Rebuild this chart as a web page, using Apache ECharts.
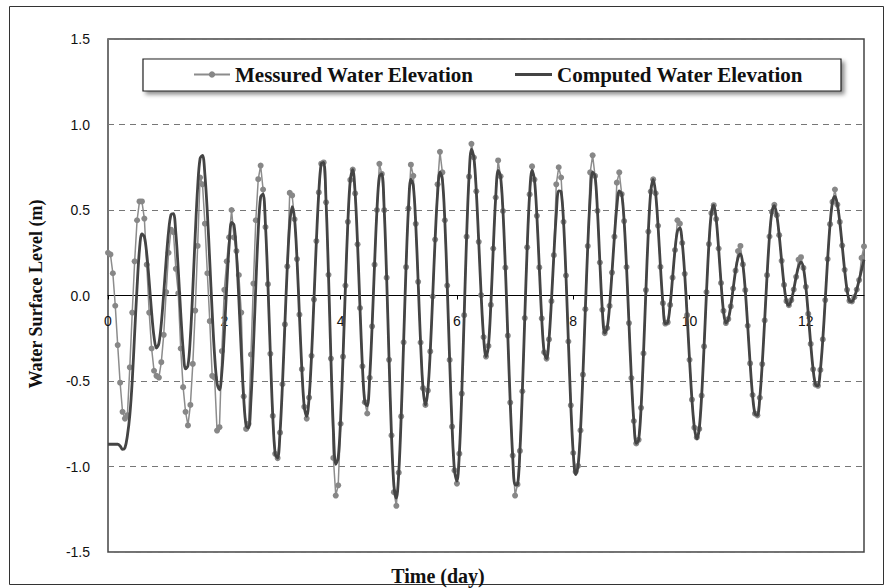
<!DOCTYPE html>
<html><head><meta charset="utf-8">
<script src="https://cdn.jsdelivr.net/npm/echarts@6/dist/echarts.min.js"></script>
<style>html,body{margin:0;padding:0;background:#fff}#c{width:892px;height:588px}</style>
</head><body><div id="c"></div>
<script>
// Series names (as printed in the legend)
const seriesNames = ['Messured Water Elevation', 'Computed Water Elevation'];
// Samples are hourly, starting at day 0
const sampleStepDays = 1 / 24;
const xTickLabels = ['0', '2', '4', '6', '8', '10', '12'];
const yTickLabels = ['-1.5', '-1.0', '-0.5', '0.0', '0.5', '1.0', '1.5'];

// Measured water elevation (m), hourly
const measured = [
 0.25,0.24,0.13,-0.06,-0.29,-0.51,-0.68,-0.72,-0.70,-0.42,
 -0.10,0.20,0.44,0.55,0.55,0.45,0.18,-0.10,-0.31,-0.44,
 -0.47,-0.48,-0.39,-0.23,0.02,0.25,0.385,0.37,0.156,0.013,
 -0.31,-0.536,-0.68,-0.76,-0.64,-0.40,-0.088,0.29,0.69,0.65,
 0.42,0.13,-0.15,-0.47,-0.48,-0.79,-0.77,-0.325,0.033,0.20,
 0.34,0.50,0.34,0.26,0.12,-0.10,-0.59,-0.78,-0.75,-0.345,
 0.07,0.44,0.68,0.76,0.62,0.40,0.066,-0.341,-0.704,-0.926,
 -0.951,-0.802,-0.519,-0.169,0.170,0.60,0.585,0.446,0.213,-0.112,
 -0.431,-0.651,-0.72,-0.597,-0.353,-0.024,0.318,0.603,0.771,0.778,
 0.545,0.121,-0.369,-0.95,-1.17,-1.11,-0.75,-0.358,0.058,0.431,
 0.676,0.736,0.597,0.299,-0.073,-0.414,-0.624,-0.69,-0.481,-0.180,
 0.180,0.500,0.77,0.711,0.499,0.104,-0.376,-0.818,-1.15,-1.23,
 -1.036,-0.707,-0.274,0.166,0.510,0.765,0.70,0.419,0.080,-0.275,
 -0.542,-0.640,-0.556,-0.327,-0.006,0.327,0.65,0.84,0.72,0.440,
 0.058,-0.377,-0.767,-1.023,-1.10,-0.925,-0.574,-0.115,0.344,0.695,
 0.887,0.807,0.609,0.314,0.002,-0.243,-0.357,-0.295,-0.055,0.275,
 0.573,0.79,0.697,0.494,0.163,-0.235,-0.626,-0.936,-1.17,-1.105,
 -0.909,-0.560,-0.132,0.282,0.591,0.755,0.678,0.466,0.164,-0.134,
 -0.332,-0.369,-0.257,-0.033,0.236,0.65,0.75,0.69,0.431,0.117,
 -0.269,-0.642,-0.921,-1.03,-0.996,-0.789,-0.463,-0.080,0.289,0.72,
 0.82,0.699,0.495,0.193,-0.084,-0.220,-0.190,-0.061,0.134,0.344,
 0.66,0.72,0.593,0.435,0.166,-0.161,-0.483,-0.734,-0.865,-0.844,
 -0.657,-0.339,0.032,0.374,0.608,0.679,0.598,0.408,0.167,-0.045,
 -0.164,-0.157,-0.055,0.104,0.266,0.44,0.42,0.307,0.127,-0.115,
 -0.376,-0.609,-0.773,-0.83,-0.780,-0.586,-0.298,0.020,0.301,0.482,
 0.528,0.447,0.275,0.073,-0.090,-0.161,-0.138,-0.064,0.041,0.145,
 0.26,0.29,0.182,0.031,-0.177,-0.397,-0.582,-0.691,-0.701,-0.598,
 -0.401,-0.146,0.119,0.345,0.489,0.53,0.470,0.353,0.203,0.062,
 -0.033,-0.057,-0.027,0.035,0.109,0.21,0.224,0.161,0.051,-0.108,
 -0.283,-0.432,-0.521,-0.528,-0.435,-0.257,-0.027,0.213,0.417,0.547,
 0.62,0.532,0.430,0.292,0.150,0.033,-0.031,-0.035,-0.010,0.035,
 0.090,0.22,0.287
];

// Computed water elevation (m), hourly
const computed = [
 -0.87,-0.87,-0.87,-0.87,-0.87,-0.88,-0.90,-0.89,-0.82,-0.70,
 -0.50,-0.22,0.05,0.27,0.36,0.343,0.242,0.080,-0.099,-0.242,
 -0.308,-0.280,-0.164,0.012,0.206,0.373,0.473,0.479,0.363,0.149,
 -0.100,-0.313,-0.429,-0.411,-0.242,0.036,0.354,0.633,0.801,0.820,
 0.705,0.484,0.198,-0.099,-0.352,-0.513,-0.552,-0.447,-0.222,0.053,
 0.294,0.427,0.412,0.249,-0.021,-0.329,-0.599,-0.762,-0.775,-0.610,
 -0.306,0.056,0.378,0.576,0.593,0.408,0.066,-0.341,-0.704,-0.926,
 -0.951,-0.802,-0.519,-0.169,0.170,0.417,0.519,0.446,0.213,-0.112,
 -0.431,-0.651,-0.707,-0.597,-0.353,-0.024,0.318,0.603,0.771,0.778,
 0.545,0.121,-0.369,-0.779,-0.987,-0.950,-0.722,-0.358,0.058,0.431,
 0.676,0.736,0.597,0.299,-0.073,-0.414,-0.624,-0.645,-0.481,-0.180,
 0.180,0.500,0.696,0.711,0.499,0.104,-0.376,-0.818,-1.112,-1.185,
 -1.036,-0.707,-0.274,0.166,0.510,0.681,0.641,0.419,0.080,-0.275,
 -0.542,-0.640,-0.556,-0.327,-0.006,0.327,0.591,0.722,0.678,0.440,
 0.058,-0.377,-0.767,-1.023,-1.085,-0.925,-0.574,-0.115,0.344,0.695,
 0.855,0.807,0.609,0.314,0.002,-0.243,-0.357,-0.295,-0.055,0.275,
 0.573,0.731,0.697,0.494,0.163,-0.235,-0.626,-0.936,-1.108,-1.105,
 -0.909,-0.560,-0.132,0.282,0.591,0.731,0.678,0.466,0.164,-0.134,
 -0.332,-0.369,-0.257,-0.033,0.236,0.473,0.612,0.607,0.431,0.117,
 -0.269,-0.642,-0.921,-1.047,-0.996,-0.789,-0.463,-0.080,0.289,0.573,
 0.721,0.699,0.495,0.193,-0.084,-0.220,-0.190,-0.061,0.134,0.344,
 0.518,0.611,0.593,0.435,0.166,-0.161,-0.483,-0.734,-0.865,-0.844,
 -0.657,-0.339,0.032,0.374,0.608,0.679,0.598,0.408,0.167,-0.045,
 -0.164,-0.157,-0.055,0.104,0.266,0.376,0.395,0.307,0.127,-0.115,
 -0.376,-0.609,-0.773,-0.839,-0.780,-0.586,-0.298,0.020,0.301,0.482,
 0.528,0.447,0.275,0.073,-0.090,-0.161,-0.138,-0.064,0.041,0.145,
 0.220,0.244,0.182,0.031,-0.177,-0.397,-0.582,-0.691,-0.701,-0.598,
 -0.401,-0.146,0.119,0.345,0.489,0.525,0.470,0.353,0.203,0.062,
 -0.033,-0.057,-0.027,0.035,0.109,0.169,0.195,0.161,0.051,-0.108,
 -0.283,-0.432,-0.521,-0.528,-0.435,-0.257,-0.027,0.213,0.417,0.547,
 0.579,0.532,0.430,0.292,0.150,0.033,-0.031,-0.035,-0.010,0.035,
 0.090,0.150,0.210
];

const toPairs = arr => arr.map((v, i) => [i * sampleStepDays, v]);

const chart = echarts.init(document.getElementById('c'), null, {renderer: 'svg'});
const serif = '"Liberation Serif", "Times New Roman", serif';
const sans = '"Liberation Sans", Arial, sans-serif';
const legendText = {fontFamily: serif, fontWeight: 'bold', fontSize: 21, color: '#111'};

// plot frame: top 39, height 513 -> y=0 sits 256.5 px above the bottom edge
const gridTop = 39, gridHeight = 513;

chart.setOption({
  animation: false,
  backgroundColor: '#ffffff',
  grid: {left: 108, top: gridTop, width: 756, height: gridHeight, show: true, borderColor: '#444', borderWidth: 1.5},
  legend: [
    {data: [seriesNames[0]], left: 188, top: 59, itemWidth: 36, itemHeight: 8, itemGap: 0, selectedMode: false, textStyle: legendText},
    {data: [{name: seriesNames[1], icon: 'rect'}], left: 510, top: 59, itemWidth: 37, itemHeight: 3, itemGap: 0, selectedMode: false, textStyle: legendText}
  ],
  graphic: [
    {type: 'rect', z: -1, shape: {x: 9.5, y: 6.5, width: 874, height: 578}, style: {fill: 'none', stroke: '#333', lineWidth: 1}},
    {type: 'rect', z: 1, shape: {x: 143, y: 59, width: 698, height: 32},
     style: {fill: '#fff', stroke: '#222', lineWidth: 1.2, shadowBlur: 4, shadowOffsetX: 3, shadowOffsetY: 3, shadowColor: 'rgba(0,0,0,0.45)'}},
    {type: 'text', x: 36, y: 294, rotation: Math.PI / 2,
     style: {text: 'Water Surface Level (m)', fontFamily: serif, fontWeight: 'bold', fontSize: 18, fill: '#111',
             align: 'center', verticalAlign: 'middle', textAlign: 'center', textVerticalAlign: 'middle'}},
    {type: 'text', x: 438, y: 576,
     style: {text: 'Time (day)', fontFamily: serif, fontWeight: 'bold', fontSize: 20, fill: '#111',
             align: 'center', verticalAlign: 'middle', textAlign: 'center', textVerticalAlign: 'middle'}}
  ],
  xAxis: {
    type: 'value', min: 0, max: 13, interval: 2,
    offset: -gridHeight / 2,
    axisLine: {show: true, onZero: false, lineStyle: {color: '#000', width: 1}},
    axisTick: {show: true, length: 4, lineStyle: {color: '#000'}},
    axisLabel: {margin: 18, fontFamily: sans, fontSize: 14, color: '#111', showMaxLabel: false,
      formatter: v => xTickLabels.includes(String(v)) ? String(v) : ''},
    splitLine: {show: false}
  },
  yAxis: {
    type: 'value', min: -1.5, max: 1.5, interval: 0.5,
    axisLine: {show: false}, axisTick: {show: false},
    axisLabel: {margin: 18, fontFamily: sans, fontSize: 14, color: '#111',
      formatter: v => yTickLabels[Math.round((v + 1.5) / 0.5)]},
    splitLine: {show: true, lineStyle: {type: [6, 5], color: '#777', width: 1}}
  },
  series: [
    {name: seriesNames[0], type: 'line', data: toPairs(measured), symbol: 'circle', symbolSize: 6,
     showSymbol: true, showAllSymbol: true, z: 2,
     itemStyle: {color: '#878787'}, lineStyle: {color: '#8c8c8c', width: 1.5}},
    {name: seriesNames[1], type: 'line', data: toPairs(computed), symbol: 'none', smooth: 0.35, z: 3,
     itemStyle: {color: '#444444'}, lineStyle: {color: '#444444', width: 2.8}}
  ]
});
</script></body></html>
